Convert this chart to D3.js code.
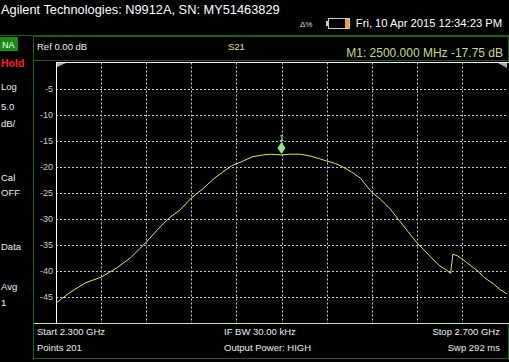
<!DOCTYPE html>
<html>
<head>
<meta charset="utf-8">
<title>N9912A S21</title>
<script src="https://cdn.jsdelivr.net/npm/d3@7"></script>
<style>
  body { margin:0; background:#000; overflow:hidden; }
  text { font-family:"Liberation Sans", Arial, sans-serif; }
</style>
</head>
<body>
<script>
// trace (MHz, dB)
var freqMHz = [2300,2312,2326,2340,2354,2366,2380,2390,2400,2410,2420,2430,2440,2448,2456,2466,2474,2482,2490,2500,
               2508,2516,2522,2528,2534,2540,2548,2554,2562,2570,2574,2580,2588,2596,2604,2612,2620,2630,2640,2646,
               2650,2652,2656,2660,2668,2674,2680,2688,2694,2700]
var s21dB = [-46.2,-44.2,-42.3,-41.2,-39.4,-37.5,-34.5,-32.1,-29.9,-28.3,-26.0,-24.3,-22.3,-21.0,-19.8,-18.9,-18.1,-17.8,-17.6,-17.75,
             -17.6,-17.6,-17.8,-18.1,-18.5,-18.9,-19.4,-20.0,-21.0,-22.2,-23.3,-24.9,-26.3,-28.0,-30.2,-32.4,-34.6,-36.8,-39.0,-39.8,
             -40.5,-36.8,-37.1,-37.7,-39.0,-40.0,-41.3,-42.5,-43.6,-44.4]
var yTicks = [-5,-10,-15,-20,-25,-30,-35,-40,-45]
var xGrid = [2340,2380,2420,2460,2500,2540,2580,2620,2660]
var marker = {f:2500, db:-17.75}
var sideLabels = [["Log",90],["5.0",110],["dB/",127],["Cal",181],["OFF",196],["Data",250],["Avg",290],["1",306]]

var width = 509, height = 362
var svg = d3.select("body").append("svg").attr("width", width).attr("height", height)
svg.append("rect").attr("width", width).attr("height", height).attr("fill", "#000")

var pLeft = 56, pRight = 507, pTop = 62.5, pBottom = 323
var x = d3.scaleLinear().domain([2300, 2700]).range([pLeft, pRight])
var y = d3.scaleLinear().domain([0, -50]).range([pTop, pBottom])

// header
svg.append("text").attr("x", 1).attr("y", 14).attr("fill", "#fff").attr("font-size", 12.8)
  .text("Agilent Technologies: N9912A, SN: MY51463829")
svg.append("text").attr("x", 300).attr("y", 27).attr("fill", "#ddd").attr("font-size", 8).text("Δ%")
svg.append("rect").attr("x", 328.5).attr("y", 18.5).attr("width", 21).attr("height", 10)
  .attr("fill", "none").attr("stroke", "#ccc")
svg.append("rect").attr("x", 326).attr("y", 21).attr("width", 2).attr("height", 5).attr("fill", "#ccc")
svg.append("rect").attr("x", 345).attr("y", 19).attr("width", 4).attr("height", 9).attr("fill", "#f0a020")
svg.append("text").attr("x", 502).attr("y", 27).attr("text-anchor", "end").attr("fill", "#fff").attr("font-size", 11.2)
  .text("Fri, 10 Apr 2015 12:34:23 PM")

// frame
var dk = "#1f5a1f"
svg.append("line").attr("x1", 0).attr("x2", width).attr("y1", 35.5).attr("y2", 35.5).attr("stroke", dk)
svg.append("line").attr("x1", 33.5).attr("x2", 33.5).attr("y1", 36).attr("y2", 360).attr("stroke", dk)
svg.append("rect").attr("x", 33.5).attr("y", 36.5).attr("width", 475).attr("height", 24)
  .attr("fill", "none").attr("stroke", dk)
svg.append("rect").attr("x", 0).attr("y", 37).attr("width", 18).attr("height", 14).attr("fill", "#168a16")
svg.append("text").attr("x", 2).attr("y", 48).attr("fill", "#fff").attr("font-size", 9).text("NA")
svg.append("text").attr("x", 1).attr("y", 67).attr("fill", "#ff2020").attr("font-size", 10.5)
  .attr("font-weight", "bold").text("Hold")
svg.selectAll(".side").data(sideLabels).enter().append("text")
  .attr("x", 1).attr("y", function(d){ return d[1] }).attr("fill", "#eee").attr("font-size", 9.5)
  .text(function(d){ return d[0] })

svg.append("text").attr("x", 37).attr("y", 50).attr("fill", "#eee").attr("font-size", 9.5).text("Ref 0.00 dB")
svg.append("text").attr("x", 228).attr("y", 50).attr("fill", "#e0e070").attr("font-size", 9.5).text("S21")
svg.append("text").attr("x", 503).attr("y", 57).attr("text-anchor", "end").attr("fill", "#c4dc8a")
  .attr("font-size", 12).text("M1:  2500.000 MHz  -17.75 dB")

// grid
svg.selectAll(".hg").data(yTicks).enter().append("line")
  .attr("x1", pLeft).attr("x2", pRight).attr("y1", function(d){ return Math.round(y(d)) + 0.5 })
  .attr("y2", function(d){ return Math.round(y(d)) + 0.5 })
  .attr("stroke", "#c8c8c8").attr("stroke-dasharray", "2,2")
svg.selectAll(".vg").data(xGrid).enter().append("line")
  .attr("y1", pTop).attr("y2", pBottom).attr("x1", function(d){ return Math.round(x(d)) + 0.5 })
  .attr("x2", function(d){ return Math.round(x(d)) + 0.5 })
  .attr("stroke", "#c8c8c8").attr("stroke-dasharray", "2,2")
svg.selectAll(".yl").data(yTicks).enter().append("text")
  .attr("x", pLeft - 3).attr("y", function(d){ return y(d) + 3 }).attr("text-anchor", "end")
  .attr("fill", "#ccc").attr("font-size", 9).text(function(d){ return d })

// plot border
svg.append("line").attr("x1", pLeft + 0.5).attr("x2", pLeft + 0.5).attr("y1", pTop).attr("y2", pBottom).attr("stroke", "#fff")
svg.append("line").attr("x1", pLeft).attr("x2", width).attr("y1", pTop).attr("y2", pTop).attr("stroke", "#eee")
svg.append("path").attr("d", "M57,63 L66,63 L57,67 Z").attr("fill", "#aaa")
svg.append("path").attr("d", "M498,63 L507,63 L507,68 Z").attr("fill", "#aaa")

// trace
var line = d3.line().x(function(d, i){ return x(freqMHz[i]) }).y(function(d){ return y(d) })
svg.append("path").datum(s21dB).attr("d", line).attr("fill", "none")
  .attr("stroke", "#e6e65a").attr("stroke-width", 1)

// marker
var mx = x(marker.f), my = y(marker.db)
svg.append("path").attr("d", "M" + mx + "," + (my - 13) + " L" + (mx + 4) + "," + (my - 7) + " L" + mx + "," + (my - 1) +
  " L" + (mx - 4) + "," + (my - 7) + " Z").attr("fill", "#8ce88c")
svg.append("text").attr("x", mx).attr("y", my - 14).attr("text-anchor", "middle").attr("fill", "#8ce88c")
  .attr("font-size", 9).text("1")

// bottom info box
svg.append("rect").attr("x", 33.5).attr("y", pBottom + 0.5).attr("width", 475).attr("height", 35)
  .attr("fill", "none").attr("stroke", dk)
svg.append("line").attr("x1", 34).attr("x2", width).attr("y1", pBottom + 0.5).attr("y2", pBottom + 0.5).attr("stroke", "#b8e8a0")
var info = [["Start 2.300 GHz", 37, 335, "start"], ["Points 201", 37, 351, "start"],
            ["IF BW 30.00 kHz", 224, 335, "start"], ["Output Power: HIGH", 224, 351, "start"],
            ["Stop 2.700 GHz", 500, 335, "end"], ["Swp 292 ms", 500, 351, "end"]]
svg.selectAll(".info").data(info).enter().append("text")
  .attr("x", function(d){ return d[1] }).attr("y", function(d){ return d[2] })
  .attr("text-anchor", function(d){ return d[3] }).attr("fill", "#eee").attr("font-size", 9.5)
  .text(function(d){ return d[0] })
</script>
</body>
</html>
